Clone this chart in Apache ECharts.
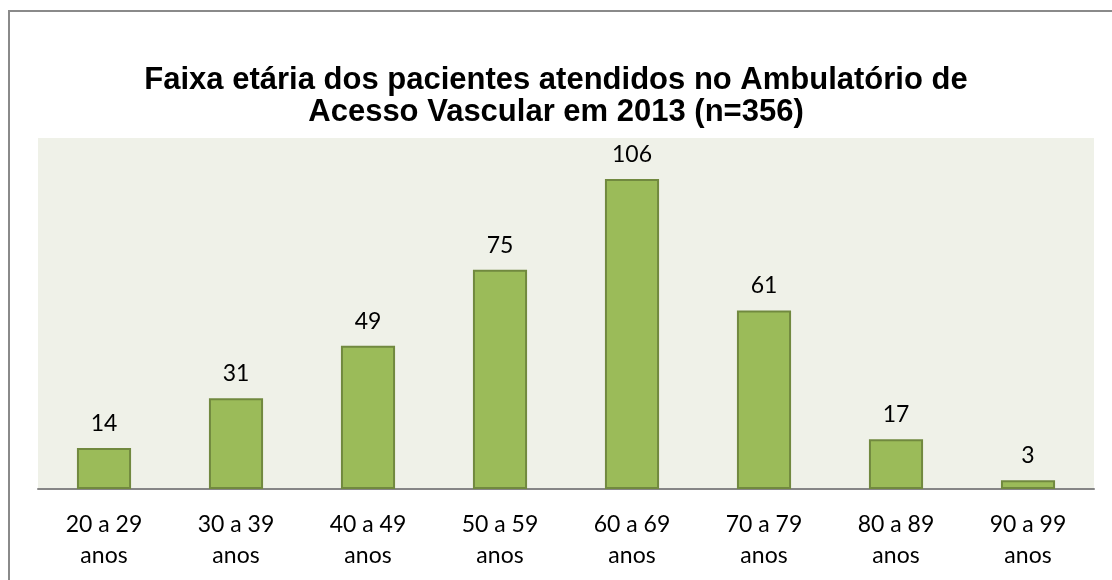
<!DOCTYPE html>
<html>
<head>
<meta charset="utf-8">
<script src="https://cdn.jsdelivr.net/npm/echarts@6/dist/echarts.min.js"></script>
<style>
  html, body { margin: 0; padding: 0; background: #fff; }
  #chart { width: 1112px; height: 580px; }
</style>
</head>
<body>
<div id="chart"></div>
<script>
var faixas = ['20 a 29\nanos', '30 a 39\nanos', '40 a 49\nanos', '50 a 59\nanos',
              '60 a 69\nanos', '70 a 79\nanos', '80 a 89\nanos', '90 a 99\nanos'];
var pacientes = [14, 31, 49, 75, 106, 61, 17, 3];

var chart = echarts.init(document.getElementById('chart'));
var option = {
    backgroundColor: '#fff',
    animation: false,
    title: {
        text: 'Faixa etária dos pacientes atendidos no Ambulatório de\nAcesso Vascular em 2013 (n=356)',
        left: 551,
        top: 59,
        textAlign: 'center',
        textStyle: {
            fontFamily: 'Liberation Sans',
            fontWeight: 'bold',
            fontSize: 31,
            lineHeight: 32,
            color: '#000'
        }
    },
    graphic: [{
        type: 'rect',
        shape: { x: 9, y: 11, width: 1200, height: 700 },
        style: { fill: 'none', stroke: '#8a8a8a', lineWidth: 2 },
        silent: true
    }],
    grid: {
        left: 38,
        right: 18,
        top: 138,
        bottom: 91,
        show: true,
        backgroundColor: '#eff1e8',
        borderWidth: 0
    },
    xAxis: {
        type: 'category',
        data: faixas,
        axisLine: { lineStyle: { color: '#868686', width: 2 } },
        axisTick: { show: false },
        axisLabel: {
            margin: 20,
            fontFamily: 'Lato',
            fontSize: 23,
            lineHeight: 31,
            color: '#000',
            interval: 0
        }
    },
    yAxis: {
        type: 'value',
        min: 0,
        max: 120,
        show: false,
        splitLine: { show: false }
    },
    series: [{
        type: 'bar',
        data: pacientes,
        barWidth: '41%',
        itemStyle: {
            color: '#9bbb59',
            borderColor: '#71893f',
            borderWidth: 2
        },
        label: {
            show: true,
            position: 'top',
            distance: 13,
            fontFamily: 'Lato',
            fontSize: 23,
            color: '#000'
        }
    }]
};
chart.setOption(option);
</script>
</body>
</html>
